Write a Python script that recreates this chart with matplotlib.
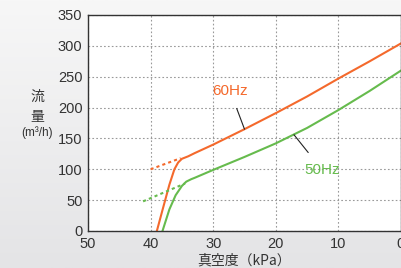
import matplotlib
matplotlib.use("Agg")
import matplotlib.pyplot as plt
import numpy as np
from matplotlib.colors import LinearSegmentedColormap

# Data (vacuum kPa, flow m3/h)
hz60_x = [39.0, 38.1, 37.0, 36.2, 35.6, 35.0, 34.0, 33.0, 30.0, 25.0, 20.0, 15.0, 10.0, 5.0, 0.0]
hz60_y = [0, 34, 75, 100, 111, 117, 121, 126, 140, 165, 191, 218, 247, 275, 304]
hz60_dot_x = [40.0, 35.2]
hz60_dot_y = [100, 118]

hz50_x = [38.1, 37.0, 36.0, 35.0, 34.3, 33.5, 33.0, 30.0, 25.0, 20.0, 15.0, 10.0, 5.0, 0.0]
hz50_y = [0, 35, 58, 73, 80, 84, 86, 99, 120, 142, 167, 196, 227, 260]
hz50_dot_x = [41.2, 34.5]
hz50_dot_y = [48, 77]

xticks = [50, 40, 30, 20, 10, 0]
yticks = [0, 50, 100, 150, 200, 250, 300, 350]

orange = "#f4692c"
green = "#66bb4d"

fig = plt.figure(figsize=(4.02, 2.68), dpi=100)
# background gradient
bg = fig.add_axes([0, 0, 1, 1], zorder=-10)
grad = np.linspace(0, 1, 256).reshape(-1, 1)
cmap = LinearSegmentedColormap.from_list("g", ["#f7f7f7", "#e4e4e6"])
bg.imshow(grad, aspect="auto", cmap=cmap, extent=[0, 1, 0, 1])
bg.axis("off")

ax = fig.add_axes([88/402, (268-231)/268, (401-88)/402, (231-15)/268])
ax.set_facecolor("white")
ax.set_xlim(50, 0)
ax.set_ylim(0, 350)
ax.set_xticks(xticks)
ax.set_yticks(yticks)
ax.tick_params(length=0, labelsize=10.5, colors="#333333", pad=4)
for lab in ax.get_xticklabels() + ax.get_yticklabels():
    lab.set_family("Liberation Sans")
ax.grid(True, linestyle=(0, (1.5, 2)), color="#999999", linewidth=0.8)
for s in ax.spines.values():
    s.set_color("#333333")
    s.set_linewidth(1.0)

ax.plot(hz60_x, hz60_y, color=orange, lw=1.5, solid_joinstyle="round")
ax.plot(hz60_dot_x, hz60_dot_y, color=orange, lw=1.5, linestyle=(0, (1.5, 1.5)))
ax.plot(hz50_x, hz50_y, color=green, lw=1.5, solid_joinstyle="round")
ax.plot(hz50_dot_x, hz50_dot_y, color=green, lw=1.5, linestyle=(0, (1.5, 1.5)))

ax.annotate("60Hz", xy=(25.0, 165), xytext=(27.3, 227), color=orange, fontsize=11,
            family="Liberation Sans", ha="center", va="center",
            arrowprops=dict(arrowstyle="-", color="#222222", lw=0.8, shrinkA=6, shrinkB=0))
ax.annotate("50Hz", xy=(17.1, 156), xytext=(12.6, 99), color=green, fontsize=11,
            family="Liberation Sans", ha="center", va="center",
            arrowprops=dict(arrowstyle="-", color="#222222", lw=0.8, shrinkA=7, shrinkB=0))

ax.set_xlabel("真空度（kPa）", family=["Noto Sans CJK JP", "DejaVu Sans"], fontsize=10,
              color="#333333", labelpad=2)
fig.text(37/402, 1 - 97/268, "流", family=["Noto Sans CJK JP"], fontsize=10,
         color="#333333", ha="center", va="center")
fig.text(37/402, 1 - 117/268, "量", family=["Noto Sans CJK JP"], fontsize=10,
         color="#333333", ha="center", va="center")
fig.text(37/402, 1 - 133/268, "(m³/h)", family=["Liberation Sans"], fontsize=8.5,
         color="#333333", ha="center", va="center")

fig.savefig("out.png", dpi=100)
